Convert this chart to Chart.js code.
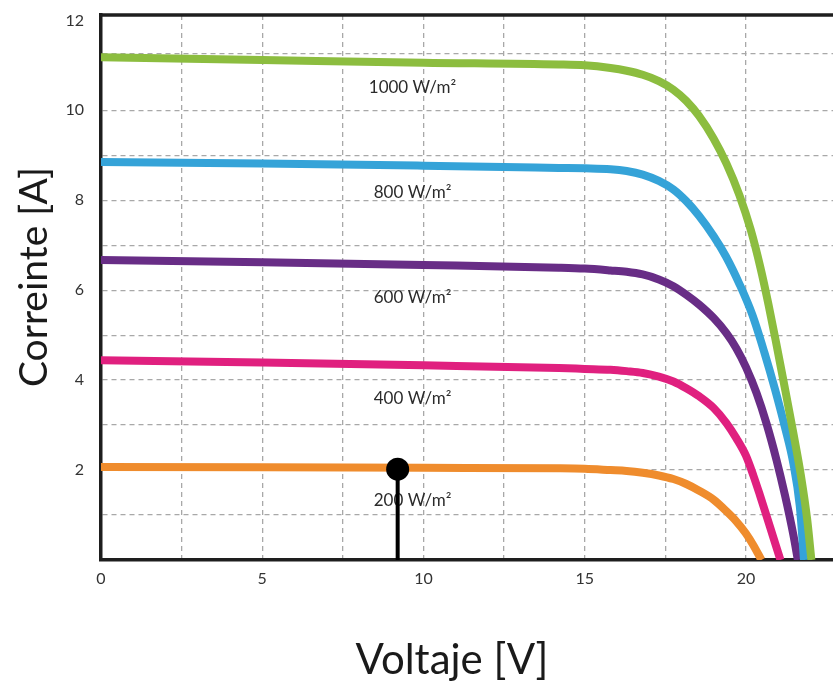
<!DOCTYPE html>
<html>
<head>
<meta charset="utf-8">
<script src="https://cdn.jsdelivr.net/npm/chart.js@4.4.1/dist/chart.umd.min.js"></script>
<style>
  html, body { margin: 0; padding: 0; background: #fff; }
  canvas { display: block; }
</style>
</head>
<body>
<canvas id="ivChart" width="833" height="689"></canvas>
<script>
// I-V curves, one pair of arrays per irradiance
const v1000 = [0, 5, 10, 14.2, 15.0, 15.8, 16.3, 16.8, 17.3, 17.75, 18.15, 18.55, 19.0, 19.4, 19.8, 20.15, 20.45, 20.7, 20.95, 21.2, 21.45, 21.7, 21.9, 22.03]
const i1000 = [11.18, 11.12, 11.06, 11.02, 11.0, 10.94, 10.88, 10.79, 10.65, 10.46, 10.21, 9.87, 9.37, 8.81, 8.11, 7.34, 6.5, 5.68, 4.78, 3.85, 2.9, 1.9, 0.9, 0]

const v800 = [0, 5, 10, 14.2, 15.0, 15.8, 16.3, 16.8, 17.3, 17.75, 18.15, 18.55, 19.0, 19.38, 19.81, 20.2, 20.57, 20.9, 21.2, 21.47, 21.67, 21.8]
const i800 = [8.85, 8.82, 8.77, 8.72, 8.71, 8.69, 8.65, 8.57, 8.43, 8.24, 7.98, 7.65, 7.2, 6.75, 6.12, 5.45, 4.62, 3.8, 2.98, 2.15, 1.2, 0]

const v600 = [0, 5, 10, 14.2, 15.0, 15.8, 16.3, 16.8, 17.3, 17.75, 18.15, 18.55, 19.0, 19.4, 19.7, 20.0, 20.33, 20.64, 20.95, 21.21, 21.47, 21.61]
const i600 = [6.67, 6.62, 6.56, 6.5, 6.48, 6.44, 6.41, 6.35, 6.24, 6.09, 5.9, 5.68, 5.38, 5.04, 4.71, 4.29, 3.71, 3.03, 2.22, 1.44, 0.56, 0]

const v400 = [0, 5, 10, 14.2, 15.0, 15.8, 16.3, 16.8, 17.3, 17.75, 18.15, 18.55, 19.0, 19.4, 19.7, 20.0, 20.23, 20.43, 20.64, 20.85, 21.07]
const i400 = [4.44, 4.39, 4.33, 4.27, 4.25, 4.23, 4.2, 4.16, 4.08, 3.97, 3.82, 3.64, 3.38, 3.04, 2.71, 2.32, 1.88, 1.45, 0.98, 0.5, 0]

const v200 = [0, 5, 10, 14.2, 15.0, 15.8, 16.3, 16.8, 17.3, 17.75, 18.15, 18.55, 19.0, 19.4, 19.7, 20.0, 20.23, 20.48]
const i200 = [2.07, 2.06, 2.05, 2.04, 2.03, 2.0, 1.98, 1.94, 1.88, 1.8, 1.69, 1.54, 1.34, 1.08, 0.86, 0.59, 0.33, 0]

// the black pin on the 200 W/m² curve
const markerV = [9.2, 9.2]
const markerI = [0, 2.02]

const irradiance = ["1000 W/m²", "800 W/m²", "600 W/m²", "400 W/m²", "200 W/m²"]
const curveColors = ["#8cbd3f", "#35a3d8", "#682d86", "#e0207f", "#ef8c2d"]

// tick values
const xTicks = [0, 2.5, 5, 7.5, 10, 12.5, 15, 17.5, 20]
const xLabels = [0, 5, 10, 15, 20]
const yTicks = [0, 1, 2, 3, 4, 5, 6, 7, 8, 9, 10, 11.27, 12]
const yLabels = [2, 4, 6, 8, 10, 12]

function toPoints(xs, ys) {
    return xs.map((x, i) => ({ x: x, y: ys[i] }))
}

const curves = [[v1000, i1000], [v800, i800], [v600, i600], [v400, i400], [v200, i200]]

const datasets = curves.map((c, i) => ({
    label: irradiance[i],
    data: toPoints(c[0], c[1]),
    borderColor: curveColors[i],
    borderWidth: 8,
    pointRadius: 0,
    cubicInterpolationMode: "monotone",
    clip: 0,
    order: 1
}))

datasets.push({
    label: "marker",
    data: toPoints(markerV, markerI),
    borderColor: "#000",
    backgroundColor: "#000",
    borderWidth: 4,
    pointRadius: [0, 11.5],
    pointBackgroundColor: "#000",
    pointBorderWidth: 0,
    order: 0
})

// where the irradiance notes sit, in axis units
const noteX = 9.66
const noteY = [10.5, 8.18, 5.84, 3.6, 1.33]

const notes = {
    id: "notes",
    beforeDatasetsDraw(chart) {
        const { ctx, scales: { x, y } } = chart
        ctx.save()
        ctx.font = "17px Lato"
        ctx.fillStyle = "#2b2b2b"
        ctx.textAlign = "center"
        ctx.textBaseline = "middle"
        irradiance.forEach((t, i) => {
            ctx.fillText(t, x.getPixelForValue(noteX), y.getPixelForValue(noteY[i]))
        })
        ctx.restore()
    },
    afterDatasetsDraw(chart) {
        const { ctx, chartArea } = chart
        ctx.save()
        // top frame line
        ctx.strokeStyle = "#1e1e1e"
        ctx.lineWidth = 3.5
        ctx.beginPath()
        ctx.moveTo(chartArea.left - 1.75, chartArea.top)
        ctx.lineTo(chartArea.right, chartArea.top)
        ctx.stroke()
        // axis titles
        ctx.fillStyle = "#1a1a1a"
        ctx.textAlign = "center"
        ctx.textBaseline = "middle"
        ctx.font = "42px Lato"
        ctx.fillText("Voltaje [V]", 452, 660)
        ctx.translate(34, 277)
        ctx.rotate(-Math.PI / 2)
        ctx.font = "39px Lato"
        ctx.fillText("Correinte [A]", 0, 0)
        ctx.restore()
    }
}

function draw() {
    new Chart(document.getElementById("ivChart"), {
        type: "line",
        data: { datasets: datasets },
        options: {
            responsive: false,
            animation: false,
            layout: { autoPadding: false, padding: { top: 15, right: 0, left: 0, bottom: 0 } },
            plugins: {
                legend: { display: false },
                tooltip: { enabled: false }
            },
            scales: {
                x: {
                    type: "linear",
                    min: 0,
                    max: 22.7,
                    afterBuildTicks(scale) {
                        scale.ticks = xTicks.map(v => ({ value: v }))
                    },
                    afterFit(scale) {
                        scale.height = 129
                        scale.paddingLeft = 0
                        scale.paddingRight = 0
                    },
                    ticks: {
                        autoSkip: false,
                        maxRotation: 0,
                        padding: 9,
                        color: "#333",
                        font: { family: "Lato", size: 16 },
                        callback: v => xLabels.includes(v) ? String(v) : ""
                    },
                    grid: {
                        drawTicks: false,
                        color: c => c.tick && c.tick.value === 0 ? "rgba(0,0,0,0)" : "#a8a8a8",
                        lineWidth: 1.3
                    },
                    border: { display: true, color: "#1e1e1e", width: 3.5, dash: [5, 4] }
                },
                y: {
                    type: "linear",
                    min: 0,
                    max: 12.12,
                    afterBuildTicks(scale) {
                        scale.ticks = yTicks.map(v => ({ value: v }))
                    },
                    afterFit(scale) {
                        scale.width = 101
                        scale.paddingTop = 0
                        scale.paddingBottom = 0
                    },
                    ticks: {
                        autoSkip: false,
                        padding: 17,
                        color: "#333",
                        font: { family: "Lato", size: 16 },
                        callback: v => yLabels.includes(v) ? String(v) : ""
                    },
                    grid: {
                        drawTicks: false,
                        color: c => c.tick && (c.tick.value === 0 || c.tick.value === 12) ? "rgba(0,0,0,0)" : "#a8a8a8",
                        lineWidth: 1.3
                    },
                    border: { display: true, color: "#1e1e1e", width: 3.5, dash: [5, 4] }
                }
            }
        },
        plugins: [notes]
    })
}

if (document.fonts && document.fonts.load) {
    document.fonts.load("16px Lato").then(draw, draw)
} else {
    draw()
}
</script>
</body>
</html>
